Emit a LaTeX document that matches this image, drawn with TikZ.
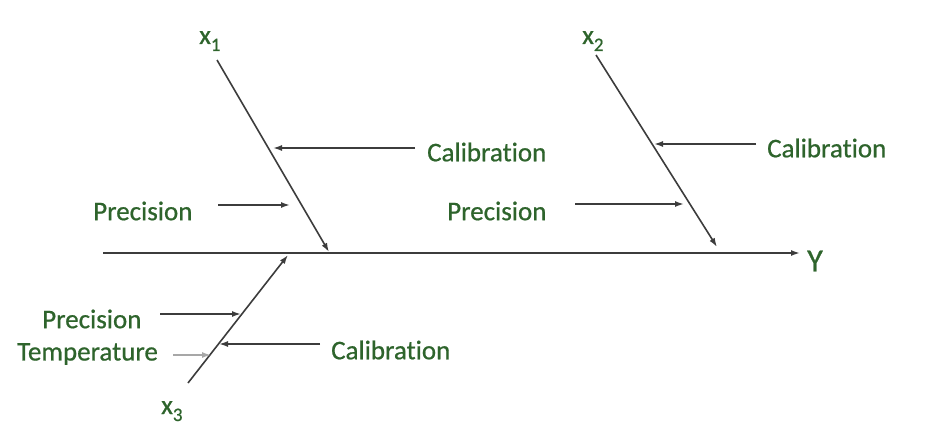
\documentclass[tikz,border=0pt]{standalone}
\usepackage{fontspec}
\setmainfont{Carlito}[Ligatures=NoCommon]
\newfontfamily\labfont{Carlito}[Ligatures=NoCommon,UprightFeatures={FakeBold=0.7}]
\usetikzlibrary{arrows.meta}
\definecolor{lbl}{RGB}{46,100,44}
\definecolor{ln}{RGB}{60,60,60}
\newcommand{\subidx}[1]{\raisebox{-7pt}{\fontsize{19}{20}\selectfont #1}}
\begin{document}
\begin{tikzpicture}[x=1pt,y=-1pt,
  lab/.style={text=lbl,font=\labfont\fontsize{27}{32}\selectfont,inner sep=0pt,anchor=west},
  bone/.style={draw=ln,line width=1.6pt,-{Latex[length=9pt,width=6pt]}},
  rib/.style={draw=ln,line width=1.6pt,-{Latex[length=9pt,width=6pt]}}]
\useasboundingbox (0,0) rectangle (933,433);
% coordinates
\coordinate (s0) at (103,253);
\coordinate (s1) at (800,253);
\coordinate (a1) at (217,60);   \coordinate (t1) at (329,252);
\coordinate (a2) at (596,55);   \coordinate (t2) at (717,247);
\coordinate (a3) at (188,383);  \coordinate (t3) at (288,255);
% labels
\node[lab,font=\labfont\fontsize{32}{36}\selectfont] (Y) at (807,261) {Y};
\node[lab,anchor=base west] (x1) at (199,44) {x\subidx{1}};
\node[lab,anchor=base west] (x2) at (582,44) {x\subidx{2}};
\node[lab,anchor=base west] (x3) at (161,414) {x\subidx{3}};
\node[lab] (c1) at (427,152) {Calibration};
\node[lab] (p1) at (93,211) {Precision};
\node[lab] (c2) at (767,148) {Calibration};
\node[lab] (p2) at (447,211) {Precision};
\node[lab] (p3) at (42,319) {Precision};
\node[lab] (tm) at (17,354) {Temperature};
\node[lab] (c3) at (331,350) {Calibration};
% rib start coordinates
\coordinate (c1s) at (415,148); \coordinate (c1e) at (273,148);
\coordinate (p1s) at (218,205); \coordinate (p1e) at (290,205);
\coordinate (c2s) at (756,144); \coordinate (c2e) at (654,144);
\coordinate (p2s) at (575,204); \coordinate (p2e) at (684,204);
\coordinate (p3s) at (160,314); \coordinate (p3e) at (241,314);
\coordinate (tms) at (173,355); \coordinate (tme) at (211,355);
\coordinate (c3s) at (320,344); \coordinate (c3e) at (219,344);
% spine and bones
\draw[bone] (s0) -- (s1);
\draw[bone] (a1) -- (t1);
\draw[bone] (a2) -- (t2);
\draw[bone] (a3) -- (t3);
% ribs
\draw[rib] (c1s) -- (c1e);
\draw[rib] (p1s) -- (p1e);
\draw[rib] (c2s) -- (c2e);
\draw[rib] (p2s) -- (p2e);
\draw[rib] (p3s) -- (p3e);
\draw[rib,draw=ln!45] (tms) -- (tme);
\draw[rib] (c3s) -- (c3e);
\end{tikzpicture}
\end{document}
